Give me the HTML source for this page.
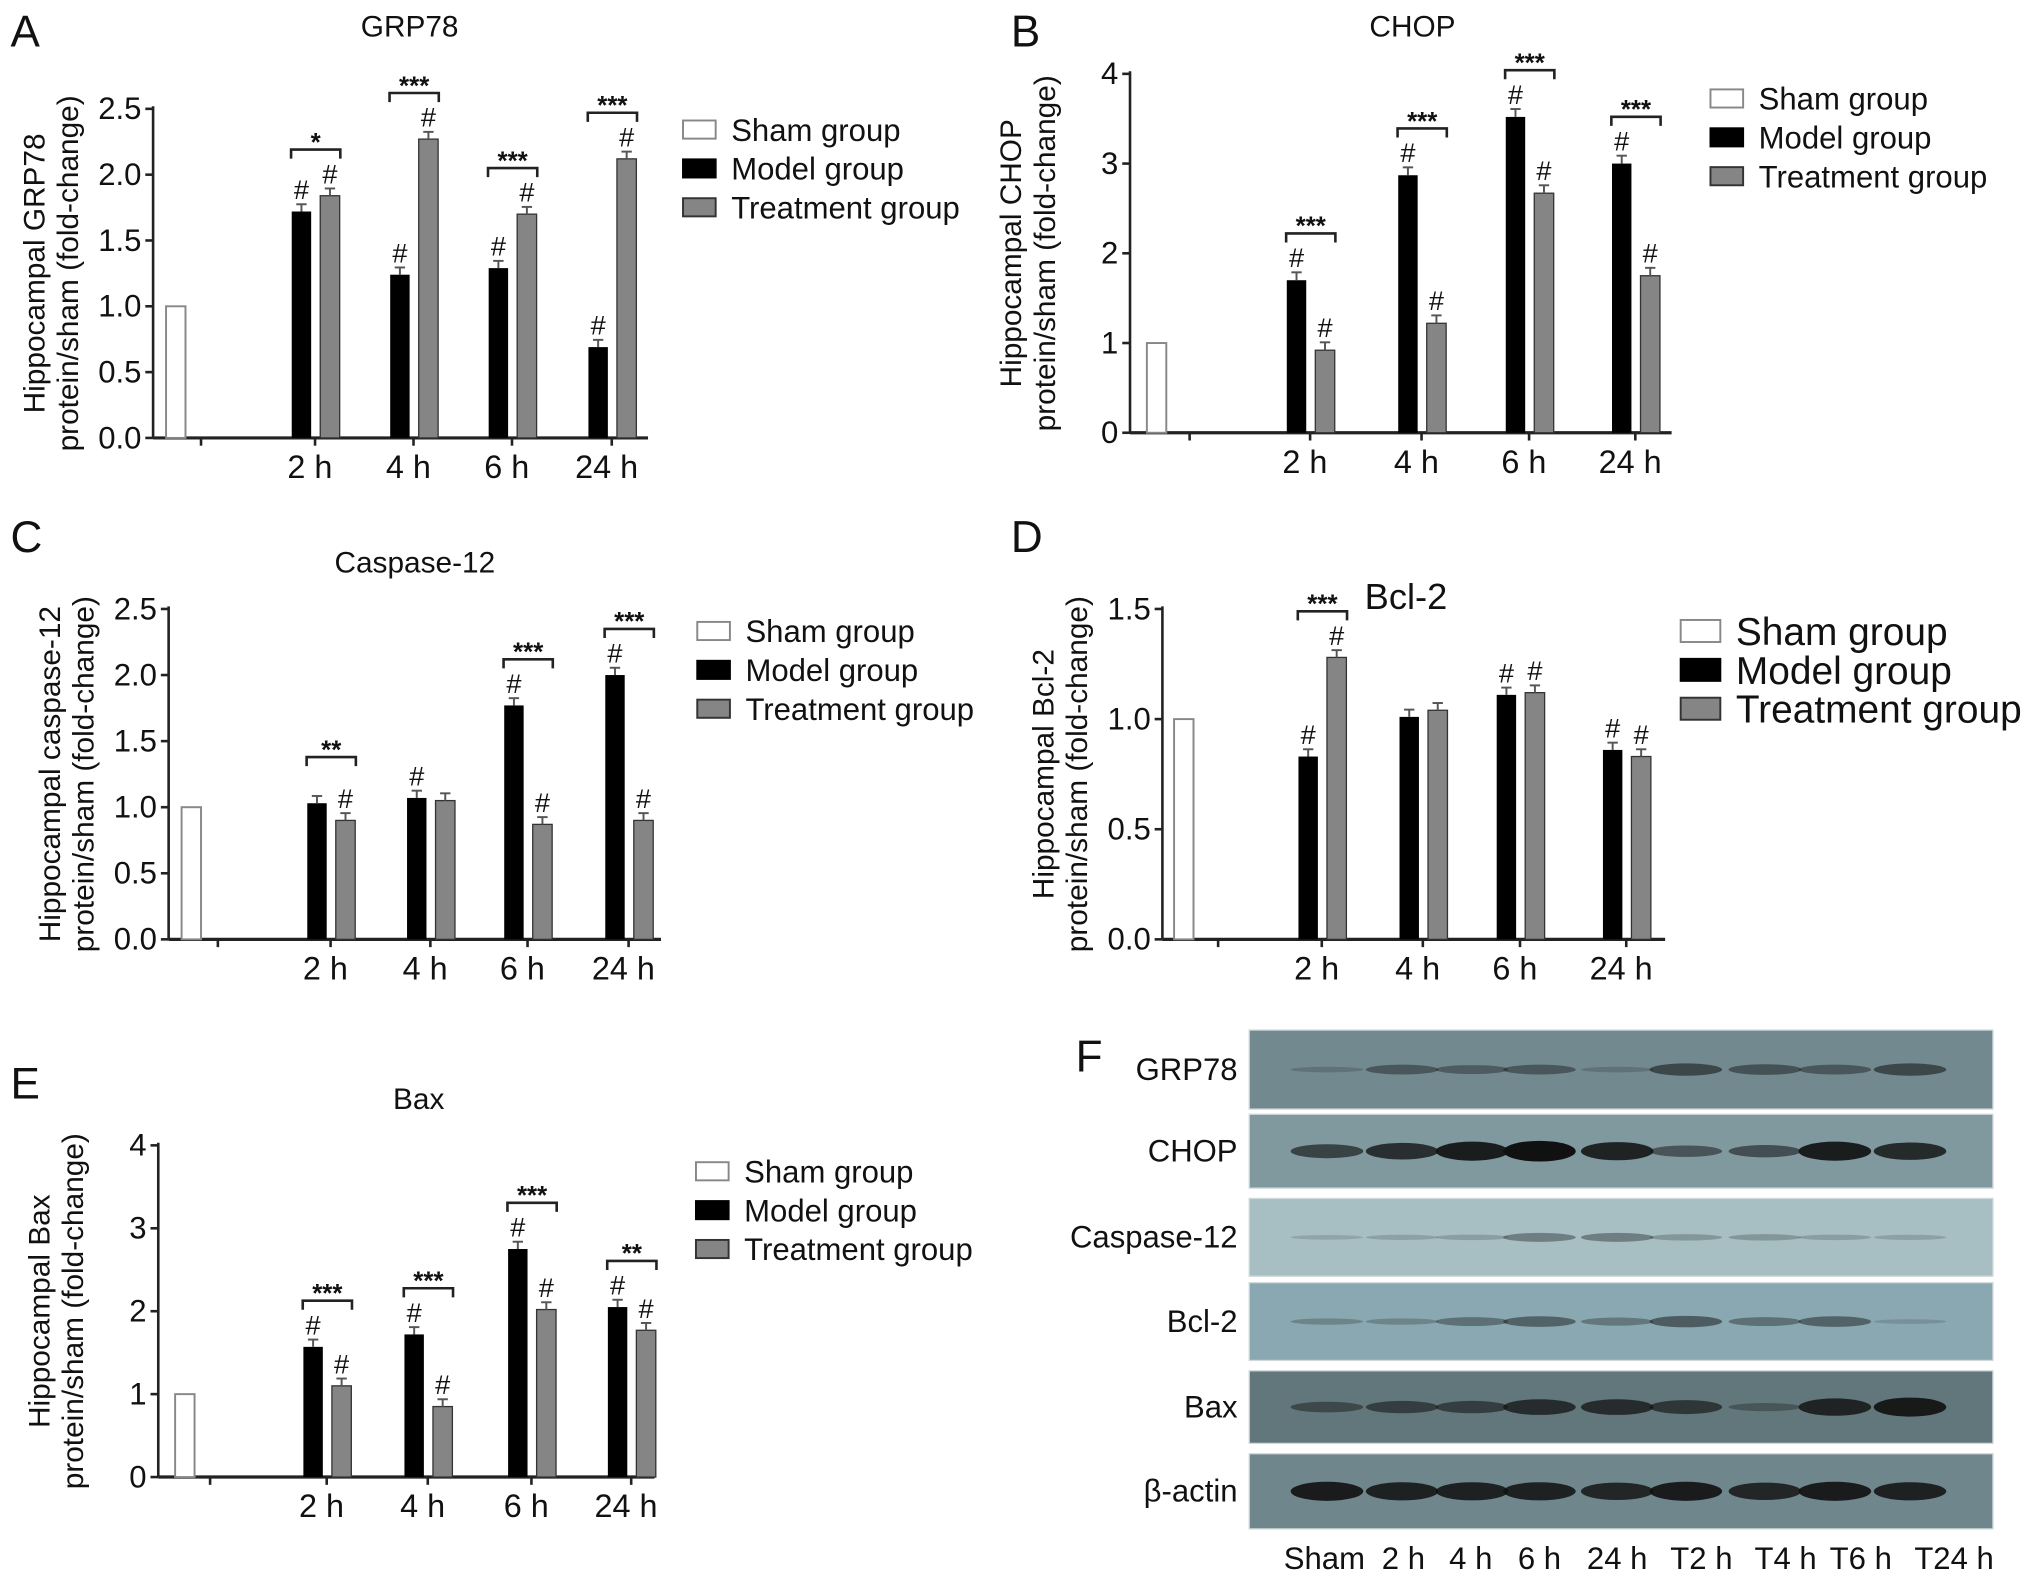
<!DOCTYPE html>
<html><head><meta charset="utf-8"><style>
html,body{margin:0;padding:0;background:#fff}
svg{display:block}
text{font-family:"Liberation Sans Narrow","Liberation Sans",sans-serif;fill:#111}
</style></head><body>
<svg id="fig" width="2032" height="1582" viewBox="0 0 1568 1221" xmlns="http://www.w3.org/2000/svg"></svg>
<script>
const timeLabels = ["2 h","4 h","6 h","24 h"];
const grpModel = [1.72,1.24,1.29,0.69];
const grpTreat = [1.84,2.27,1.70,2.12];
const grpSig = ["*","***","***","***"];
const chopModel = [1.70,2.87,3.52,3.00];
const chopTreat = [0.92,1.22,2.67,1.75];
const chopSig = ["***","***","***","***"];
const casModel = [1.03,1.07,1.77,2.00];
const casTreat = [0.90,1.05,0.87,0.90];
const casSig = ["**","","***","***"];
const casHashM = [false,true,true,true];
const casHashT = [true,false,true,true];
const bclModel = [0.83,1.01,1.11,0.86];
const bclTreat = [1.28,1.04,1.12,0.83];
const bclSig = ["***","","",""];
const bclHashM = [true,false,true,true];
const bclHashT = [true,false,true,true];
const baxModel = [1.57,1.72,2.75,2.05];
const baxTreat = [1.10,0.85,2.02,1.77];
const baxSig = ["***","***","***","**"];
const blotLanes = ["Sham","2 h","4 h","6 h","24 h","T2 h","T4 h","T6 h","T24 h"];
const blotRows = ["GRP78","CHOP","Caspase-12","Bcl-2","Bax","β-actin"];
const grpBand = [0.1,0.35,0.3,0.35,0.1,0.5,0.4,0.35,0.5];
const chopBand = [0.6,0.75,0.9,1.0,0.85,0.45,0.5,0.9,0.8];
const casBand = [0.05,0.08,0.1,0.3,0.3,0.15,0.15,0.1,0.08];
const bclBand = [0.15,0.15,0.3,0.4,0.25,0.45,0.3,0.4,0.05];
const baxBand = [0.4,0.5,0.5,0.7,0.7,0.6,0.25,0.8,0.9];
const actinBand = [0.9,0.85,0.85,0.85,0.8,0.9,0.8,0.9,0.85];

const svg=document.getElementById('fig');
const NS="http://www.w3.org/2000/svg";
function el(tag,attrs,parent){const e=document.createElementNS(NS,tag);for(const k in attrs)e.setAttribute(k,attrs[k]);(parent||svg).appendChild(e);return e;}
function txt(s,attrs,parent){const e=el('text',attrs,parent);e.textContent=s;return e;}

function panel(o){
  const g=el('g',{});
  
  
  const y=v=>o.y0-(v/o.ymax)*(o.y0-o.ytop);
  const lt=txt(o.letter,{x:o.lx,y:o.ly,'font-size':34,'font-family':'Liberation Sans'},g);
  
  const tt=txt(o.title,{x:o.tx,y:o.ty,'font-size':o.tfs||23,'text-anchor':'middle','font-family':'Liberation Sans'},g);
  
  const yt=el('g',{transform:`translate(${o.ax-84},${(o.y0+o.ytop)/2}) rotate(-90)`},g);
  
  txt(o.ylab1,{x:0,y:0,'font-size':23,'text-anchor':'middle','font-family':'Liberation Sans'},yt);
  txt('protein/sham (fold-change)',{x:0,y:26,'font-size':23,'text-anchor':'middle','font-family':'Liberation Sans'},yt);
  el('line',{x1:o.ax,y1:o.y0,x2:o.ax,y2:o.ytop-2,stroke:'#222','stroke-width':2},g);
  el('line',{x1:o.ax,y1:o.y0,x2:o.axEnd,y2:o.y0,stroke:'#222','stroke-width':2.5},g);
  o.ticks.forEach(t=>{
    el('line',{x1:o.ax-6,y1:y(t),x2:o.ax,y2:y(t),stroke:'#222','stroke-width':2},g);
    const tl=txt(o.fmt(t),{x:o.ax-9,y:y(t)+8,'font-size':24,'text-anchor':'end'},g);
    
  });
  el('line',{x1:o.shamTick,y1:o.y0,x2:o.shamTick,y2:o.y0+6,stroke:'#222','stroke-width':2},g);
  const sb=el('rect',{x:o.shamX,y:y(1),width:o.bw,height:o.y0-y(1),fill:'#fff',stroke:'#888','stroke-width':1.5},g);
  
  timeLabels.forEach((lab,i)=>{
    const c=o.centers[i];
    el('line',{x1:c,y1:o.y0,x2:c,y2:o.y0+6,stroke:'#222','stroke-width':2},g);
    const xl=txt(lab,{x:c-4,y:o.y0+31,'font-size':25,'text-anchor':'middle'},g);
    
    const mx=c-o.bw-3, tx=c+4;
    const vm=o.model[i], vt=o.treat[i], e=o.ymax*0.022;
    const bm=el('rect',{x:mx,y:y(vm),width:o.bw,height:o.y0-y(vm),fill:'#000'},g);
    
    const bt=el('rect',{x:tx,y:y(vt),width:o.bw,height:o.y0-y(vt),fill:'#858585',stroke:'#333','stroke-width':1},g);
    
    [[mx,vm],[tx,vt]].forEach(([bx,v])=>{
      const cx=bx+o.bw/2;
      el('line',{x1:cx,y1:y(v),x2:cx,y2:y(v+e),stroke:'#555','stroke-width':1.5},g);
      el('line',{x1:cx-4,y1:y(v+e),x2:cx+4,y2:y(v+e),stroke:'#555','stroke-width':1.5},g);
    });
    const hm=o.hashM?o.hashM[i]:true, ht=o.hashT?o.hashT[i]:true;
    if(hm){const h=txt('#',{x:mx+o.bw/2,y:y(vm+e)-4,'font-size':21,'text-anchor':'middle'},g);}
    if(ht){const h=txt('#',{x:tx+o.bw/2,y:y(vt+e)-4,'font-size':21,'text-anchor':'middle'},g);}
    if(o.sig[i]){
      const top=Math.min(y(vm+e),y(vt+e))-30;
      const x1=mx+o.bw/2-8,x2=tx+o.bw/2+8;
      el('path',{d:`M${x1} ${top+7}V${top}H${x2}V${top+7}`,fill:'none',stroke:'#222','stroke-width':2},g);
      const s=txt(o.sig[i],{x:(x1+x2)/2,y:top+1,'font-size':20,'text-anchor':'middle','font-weight':'bold'},g);
      
    }
  });
  const lg=el('g',{},g);
  const fills=[['#fff','#888'],['#000','#000'],['#858585','#333']];
  ['Sham group','Model group','Treatment group'].forEach((n,k)=>{
    const yy=o.legY+k*o.legDy;
    const s=o.legS;
    el('rect',{x:o.legX,y:yy-s/2,width:s*1.8,height:s,fill:fills[k][0],stroke:fills[k][1],'stroke-width':1.5},lg);
    const t=txt(n,{x:o.legX+s*1.8+12,y:yy+o.legFs*0.36,'font-size':o.legFs,'font-family':'Liberation Sans'},lg);
    
  });
}
const f1=t=>t.toFixed(1), f0=t=>String(t);
panel({name:'panel-a-grp78',letter:'A',lx:8,ly:36,title:'GRP78',tx:316,ty:28,ylab1:'Hippocampal GRP78',
  ax:118,axEnd:500,y0:338,ytop:84,ymax:2.5,ticks:[0,0.5,1,1.5,2,2.5],fmt:f1,shamTick:155,shamX:128,bw:15,
  centers:[243,319,395,472],model:grpModel,treat:grpTreat,sig:grpSig,legX:527,legY:100,legDy:30,legS:14,legFs:24});
panel({name:'panel-b-chop',letter:'B',lx:780,ly:36,title:'CHOP',tx:1090,ty:28,ylab1:'Hippocampal CHOP',
  ax:872,axEnd:1290,y0:334,ytop:57,ymax:4,ticks:[0,1,2,3,4],fmt:f0,shamTick:918,shamX:885,bw:15,
  centers:[1011,1097,1180,1262],model:chopModel,treat:chopTreat,sig:chopSig,legX:1320,legY:76,legDy:30,legS:14,legFs:24});
panel({name:'panel-c-caspase12',letter:'C',lx:8,ly:426,title:'Caspase-12',tx:320,ty:442,ylab1:'Hippocampal caspase-12',
  ax:130,axEnd:510,y0:725,ytop:470,ymax:2.5,ticks:[0,0.5,1,1.5,2,2.5],fmt:f1,shamTick:168,shamX:140,bw:15,
  centers:[255,332,407,485],model:casModel,treat:casTreat,sig:casSig,hashM:casHashM,hashT:casHashT,legX:538,legY:487,legDy:30,legS:14,legFs:24});
panel({name:'panel-d-bcl2',letter:'D',lx:780,ly:426,title:'Bcl-2',tx:1085,ty:470,tfs:28,ylab1:'Hippocampal Bcl-2',
  ax:897,axEnd:1285,y0:725,ytop:470,ymax:1.5,ticks:[0,0.5,1,1.5],fmt:f1,shamTick:940,shamX:906,bw:15,
  centers:[1020,1098,1173,1255],model:bclModel,treat:bclTreat,sig:bclSig,hashM:bclHashM,hashT:bclHashT,legX:1297,legY:487,legDy:30,legS:17,legFs:30});
panel({name:'panel-e-bax',letter:'E',lx:8,ly:848,title:'Bax',tx:323,ty:856,ylab1:'Hippocampal Bax',
  ax:122,axEnd:505,y0:1140,ytop:884,ymax:4,ticks:[0,1,2,3,4],fmt:f0,shamTick:162,shamX:135,bw:15,
  centers:[252,330,410,487],model:baxModel,treat:baxTreat,sig:baxSig,legX:537,legY:904,legDy:30,legS:14,legFs:24});

const fg=el('g',{});
txt('F',{x:830,y:827,'font-size':34,'font-family':'Liberation Sans'},fg);
const rowTop=[795,860,925,990,1058,1122], rowH=[61,57,60,60,56,58];
const rowBg=['#71898f','#7f999f','#a7bfc3','#8aa8b1','#61777b','#6f878c'];
const bands=[grpBand,chopBand,casBand,bclBand,baxBand,actinBand];
const laneX=[1024,1082,1136,1188,1248,1301,1362,1416,1474];
const laneLabelX=[1022,1083,1135,1188,1248,1313,1378,1436,1508];
blotRows.forEach((r,i)=>{
  const rr=el('rect',{x:964,y:rowTop[i],width:574,height:rowH[i],fill:rowBg[i],stroke:'#cfd8da','stroke-width':1},fg);
  
  const l=txt(r,{x:955,y:rowTop[i]+rowH[i]/2+8,'font-size':24,'text-anchor':'end'},fg);
  
  bands[i].forEach((v,j)=>{
    const b=el('ellipse',{cx:laneX[j],cy:rowTop[i]+rowH[i]/2,rx:28,ry:1.5+v*6.5,fill:'#111','fill-opacity':Math.min(1,0.1+v*0.9)},fg);
    
  });
});
blotLanes.forEach((n,j)=>{
  const l=txt(n,{x:laneLabelX[j],y:1211,'font-size':24,'text-anchor':'middle'},fg);
  
});
</script>
</body></html>
